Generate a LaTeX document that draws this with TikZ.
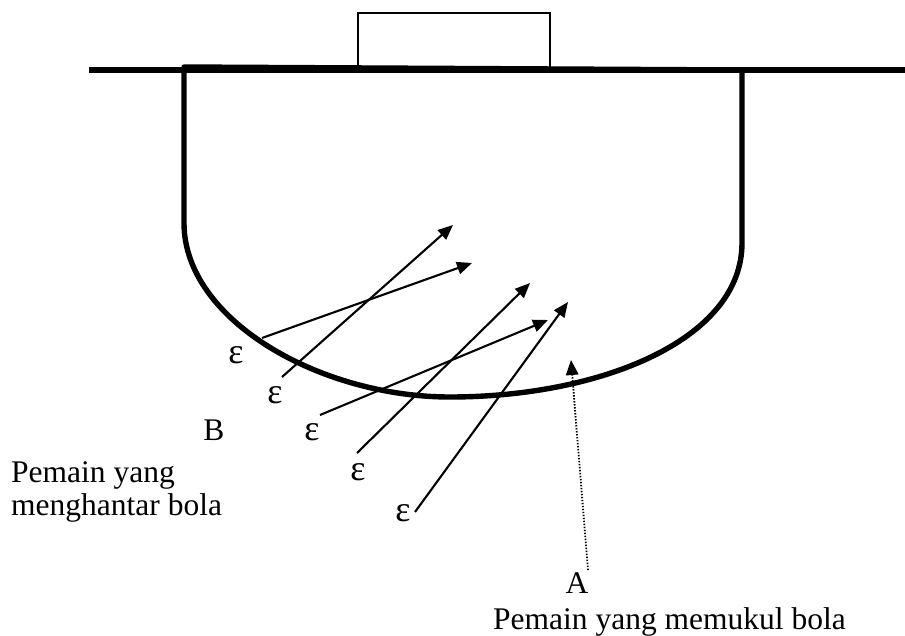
\documentclass[tikz,border=0pt]{standalone}
\usepackage{fontspec}
\setmainfont{Liberation Serif}
\usetikzlibrary{arrows.meta}
\begin{document}
\begin{tikzpicture}[x=1pt,y=-1pt,
  thickline/.style={line width=5.4pt},
  shot/.style={line width=2.1pt,-{Triangle[length=15pt,width=12.5pt]}},
  lbl/.style={inner sep=0pt,font=\fontsize{31.5}{36}\selectfont},
  eps/.style={inner sep=0pt,font=\fontsize{36}{40}\selectfont},
  dotarrow/.style={line width=1.8pt,dash pattern=on 1.4pt off 1.6pt,-{Triangle[length=15pt,width=12.5pt]}}]
\useasboundingbox (0,0) rectangle (905,636);
% ground line and goal box
\draw[thickline] (89,70) -- (905,70);
\node[draw,line width=2pt,minimum width=192pt,minimum height=57pt,inner sep=0pt,anchor=north west] (goal) at (357,12) {};
% field (D area)
\draw[thickline,line join=round] (742,70) -- (184,67) -- (184,223)
  .. controls (184,320) and (320,397) .. (450,397)
  .. controls (600,397) and (742,340) .. (742,243) -- (742,70);
% epsilon labels
\node[eps] (e1) at (236,355) {ε};
\node[eps] (e2) at (275,395) {ε};
\node[eps] (e3) at (312,432) {ε};
\node[eps] (e4) at (358,472) {ε};
\node[eps] (e5) at (403,513) {ε};
% shot start and end points
\coordinate (s1) at (262,338); \coordinate (t1) at (472,263);
\coordinate (s2) at (282,377); \coordinate (t2) at (453,225);
\coordinate (s3) at (320,415); \coordinate (t3) at (548,320);
\coordinate (s4) at (357,453); \coordinate (t4) at (530,283);
\coordinate (s5) at (415,512); \coordinate (t5) at (568,302);
\draw[shot] (s1) -- (t1);
\draw[shot] (s2) -- (t2);
\draw[shot] (s3) -- (t3);
\draw[shot] (s4) -- (t4);
\draw[shot] (s5) -- (t5);
% player B
\node[lbl,anchor=base] (B) at (214,440) {B};
\node[lbl,anchor=base west] (pb1) at (11,482) {Pemain yang};
\node[lbl,anchor=base west] (pb2) at (11,515) {menghantar bola};
% player A
\node[lbl,anchor=base] (A) at (577,593) {A};
\node[lbl,anchor=base west] (pa) at (493,629) {Pemain yang memukul bola};
\coordinate (da) at (588,570);
\coordinate (dt) at (571,360);
\draw[dotarrow] (da) -- (dt);
\end{tikzpicture}
\end{document}
